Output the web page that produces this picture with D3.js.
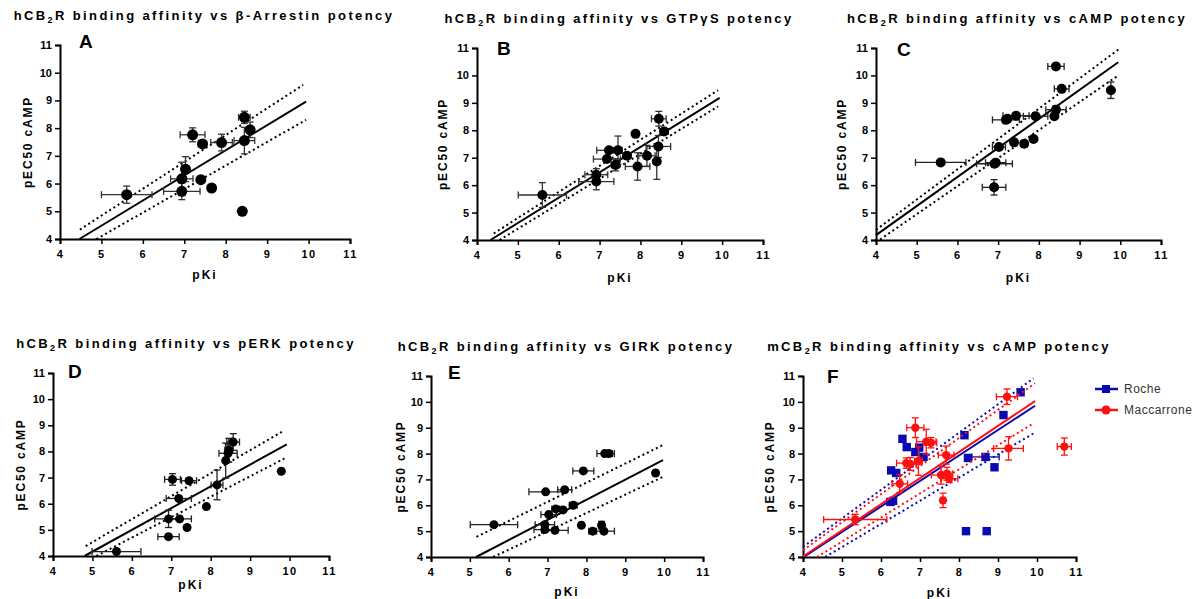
<!DOCTYPE html>
<meta charset="utf-8">
<script src="https://d3js.org/d3.v7.min.js"></script>
<style>
  body { margin: 0; background: #fff; }
  svg { font-family: Arial, "Liberation Sans", sans-serif; }
  .tick text { font-weight: bold; font-size: 11px; }
</style>
<svg id="chart" width="1198" height="599"></svg>
<script>
// points: [pKi, pEC50, pKi error, pEC50 error]
var pointsA = [[5.61,5.60,0.61,0.31],[6.94,5.72,0.44,0.30],[6.94,6.17,0.27,0.60],[7.03,6.52,0.08,0.45],
  [7.40,6.14,0,0],[7.66,5.84,0.07,0.07],[7.20,7.76,0.30,0.25],[7.44,7.43,0.10,0.05],[7.90,7.48,0.26,0.30],
  [8.45,7.55,0.25,0.48],[8.45,8.39,0.14,0.22],[8.59,7.94,0.08,0.28],[8.40,5.00,0.05,0.05]];
var pointsB = [[5.60,5.64,0.59,0.45],[6.92,6.13,0.43,0.30],[6.92,6.38,0.28,0.22],[7.18,6.95,0.33,0.10],
  [7.23,7.27,0.30,0.10],[7.45,7.27,0.10,0.52],[7.39,6.74,0.10,0.22],[7.67,7.07,0.10,0.05],[7.88,7.87,0,0],
  [7.93,6.68,0.30,0.50],[8.16,7.07,0.20,0.38],[8.40,6.86,0.05,0.65],[8.44,7.41,0.30,0.40],
  [8.45,8.42,0.18,0.27],[8.58,7.96,0.10,0.10]];
var pointsC = [[5.59,6.83,0.62,0.05],[6.90,5.92,0.29,0.28],[6.91,6.78,0.44,0.10],[6.94,6.82,0.25,0.05],
  [7.02,7.39,0.16,0.05],[7.19,8.38,0.33,0.05],[7.23,8.42,0.05,0.05],[7.44,8.53,0.32,0.05],[7.39,7.56,0.05,0.05],
  [7.64,7.51,0.08,0.05],[7.87,7.68,0.05,0.10],[7.92,8.51,0.30,0.05],[8.38,8.51,0.05,0.08],[8.42,8.75,0.25,0.15],
  [8.42,10.33,0.20,0.05],[8.56,9.51,0.18,0.05],[9.77,9.46,0.05,0.30]];
var pointsD = [[5.61,4.17,0.62,0.05],[6.93,4.74,0.27,0.05],[6.93,5.42,0.35,0.33],[7.21,5.42,0.30,0.05],
  [7.40,5.09,0,0],[7.19,6.20,0.32,0.05],[7.03,6.93,0.20,0.22],[7.45,6.88,0.19,0.05],[7.89,5.89,0,0],
  [8.16,6.72,0.15,0.57],[8.38,7.65,0.05,0.67],[8.44,7.93,0.23,0.35],[8.46,8.05,0.10,0.45],
  [8.57,8.36,0.16,0.32],[9.79,7.24,0,0]];
var pointsE = [[5.62,5.25,0.61,0],[6.93,5.06,0.28,0.05],[6.93,5.25,0.25,0.05],[6.95,6.52,0.43,0],
  [7.03,5.64,0.20,0.08],[7.19,5.03,0.34,0],[7.21,5.86,0.10,0],[7.40,5.82,0,0],[7.44,6.60,0.18,0.05],
  [7.66,6.00,0.10,0],[7.92,7.33,0.27,0],[7.87,5.23,0.05,0.05],[8.16,5.00,0.10,0],[8.39,5.23,0.05,0.15],
  [8.45,5.00,0.27,0],[8.47,8.00,0.20,0],[8.58,8.00,0.14,0.05],[9.78,7.25,0.05,0.10]];
var pointsRoche = [[9.58,10.37,0,0],[9.14,9.49,0,0.08],[8.14,8.71,0,0.08],[8.23,7.83,0,0],[8.68,7.87,0.35,0],
  [8.91,7.47,0,0],[8.18,5.00,0,0],[8.71,5.00,0,0],[6.55,8.57,0,0],[6.66,8.25,0,0],[6.88,8.06,0,0],
  [6.98,8.23,0,0],[7.09,7.87,0,0],[6.26,7.35,0,0],[6.39,7.25,0,0.12],[6.24,6.13,0,0],[6.31,6.17,0,0]];
var pointsMacc = [[5.34,5.45,0.81,0.20],[6.48,6.83,0.20,0.35],[6.65,7.63,0.25,0.20],[6.75,7.60,0.15,0.25],
  [6.88,9.00,0.22,0.38],[6.96,7.71,0.10,0.55],[7.16,8.46,0.25,0.48],[7.28,8.42,0.15,0.20],[7.54,7.17,0.25,0.35],
  [7.67,7.94,0.20,0.35],[7.69,7.22,0.15,0.25],[7.75,7.03,0.22,0.15],[7.59,6.19,0.05,0.28],
  [9.27,8.20,0.38,0.45],[9.23,10.20,0.27,0.30],[10.70,8.27,0.18,0.33]];

// regression line and dotted bands: [x1, y1, x2, y2]
var fitA = [4.47,4.00,9.94,8.96], upA = [4.48,4.34,9.87,9.56], loA = [4.88,4.00,9.94,8.30];
var fitB = [4.33,4.00,9.94,9.18], upB = [4.41,4.24,9.90,9.46], loB = [4.55,4.00,9.90,8.87];
var fitC = [4.00,4.18,9.95,10.48], upC = [4.00,4.37,9.95,10.94], loC = [4.10,4.02,9.95,10.00];
var fitD = [4.80,4.00,9.93,8.27], upD = [4.83,4.38,9.87,8.81], loD = [5.10,4.00,9.87,7.73];
var fitE = [5.16,4.00,9.97,7.75], upE = [5.17,4.78,9.97,8.33], loE = [5.60,4.00,9.97,7.10];
var fitRoche = [4.02,4.00,9.95,9.85], upRoche = [4.00,4.39,9.91,10.91], loRoche = [4.57,4.00,9.91,8.78];
var fitMacc = [4.00,4.02,9.95,10.03], upMacc = [4.00,4.26,9.95,10.72], loMacc = [4.36,4.00,9.91,9.17];

var ticks = [4, 5, 6, 7, 8, 9, 10, 11];
var legendNames = ["Roche", "Maccarrone"];

var black = "#000", blue = "#0a0ab4", red = "#ff1010";

var panels = [
  {letter: "A", title: "R binding affinity vs β-Arrestin potency", l: 60, r: 350, t: 45, b: 239,
   tx: 204, ty: 20, lx: 79, ly: 48, ylx: 28, xly: 279, rad: 5.5,
   series: [{pts: pointsA, fit: fitA, up: upA, lo: loA, color: black, err: "#333", shape: "circle"}]},
  {letter: "B", title: "R binding affinity vs GTPγS potency", l: 477, r: 763, t: 48, b: 240,
   tx: 619, ty: 23, lx: 497, ly: 55, ylx: 443, xly: 282, rad: 5,
   series: [{pts: pointsB, fit: fitB, up: upB, lo: loB, color: black, err: "#333", shape: "circle"}]},
  {letter: "C", title: "R binding affinity vs cAMP potency", l: 876, r: 1161, t: 48, b: 240,
   tx: 1017, ty: 23, lx: 897, ly: 56, ylx: 842, xly: 282, rad: 5,
   series: [{pts: pointsC, fit: fitC, up: upC, lo: loC, color: black, err: "#222", shape: "circle"}]},
  {letter: "D", title: "R binding affinity vs pERK potency", l: 53, r: 329, t: 373, b: 556,
   tx: 186, ty: 348, lx: 68, ly: 378, ylx: 21, xly: 589, rad: 4.5,
   series: [{pts: pointsD, fit: fitD, up: upD, lo: loD, color: black, err: "#222", shape: "circle"}]},
  {letter: "E", title: "R binding affinity vs GIRK potency", l: 431, r: 703, t: 376, b: 557,
   tx: 566, ty: 351, lx: 448, ly: 379, ylx: 401, xly: 596, rad: 4.5,
   series: [{pts: pointsE, fit: fitE, up: upE, lo: loE, color: black, err: "#222", shape: "circle"}]},
  {letter: "F", title: "R binding affinity vs cAMP potency", l: 803, r: 1076, t: 376, b: 557,
   tx: 939, ty: 351, lx: 827, ly: 383, ylx: 770, xly: 597, rad: 4.2, prefix: "mCB",
   series: [{pts: pointsRoche, fit: fitRoche, up: upRoche, lo: loRoche, color: blue, err: blue, shape: "square"},
            {pts: pointsMacc, fit: fitMacc, up: upMacc, lo: loMacc, color: red, err: red, shape: "circle"}]}
];

var svg = d3.select("#chart");

panels.forEach(function(p) {
  var x = d3.scaleLinear().domain([4, 11]).range([p.l, p.r]);
  var y = d3.scaleLinear().domain([4, 11]).range([p.b, p.t]);
  var g = svg.append("g");

  // title with subscript 2
  var title = g.append("text")
    .attr("x", p.tx).attr("y", p.ty)
    .attr("text-anchor", "middle")
    .style("font-weight", "bold").style("font-size", "13px").style("letter-spacing", "2.4px");
  title.append("tspan").text(p.prefix || "hCB");
  title.append("tspan").attr("dy", 3).style("font-size", "9px").text("2");
  title.append("tspan").attr("dy", -3).text(p.title);

  // axes
  var xAxis = g.append("g").attr("transform", "translate(0," + p.b + ")")
    .call(d3.axisBottom(x).tickValues(ticks).tickFormat(d3.format("d")).tickSize(5).tickPadding(6));
  var yAxis = g.append("g").attr("transform", "translate(" + p.l + ",0)")
    .call(d3.axisLeft(y).tickValues(ticks).tickFormat(d3.format("d")).tickSize(5).tickPadding(3));
  [xAxis, yAxis].forEach(function(a) {
    a.select(".domain").attr("stroke", "#000").attr("stroke-width", 2);
    a.selectAll(".tick line").attr("stroke", "#000").attr("stroke-width", 1.5);
    a.selectAll(".tick text").attr("fill", "#000");
  });
  xAxis.selectAll(".tick text").style("letter-spacing", "1.5px");

  g.append("text").attr("x", p.lx).attr("y", p.ly)
    .style("font-weight", "bold").style("font-size", "19px").text(p.letter);

  g.append("text")
    .attr("transform", "translate(" + p.ylx + "," + ((p.t + p.b) / 2) + ") rotate(-90)")
    .attr("text-anchor", "middle").attr("dy", "0.35em")
    .style("font-weight", "bold").style("font-size", "12px").style("letter-spacing", "1.8px")
    .text("pEC50 cAMP");

  g.append("text").attr("x", (p.l + p.r) / 2).attr("y", p.xly)
    .attr("text-anchor", "middle")
    .style("font-weight", "bold").style("font-size", "12px").style("letter-spacing", "2px")
    .text("pKi");

  p.series.forEach(function(s) {
    // fit line and bands
    [[s.up, "2,3"], [s.lo, "2,3"], [s.fit, null]].forEach(function(ln) {
      var d = ln[0];
      g.append("line")
        .attr("x1", x(d[0])).attr("y1", y(d[1])).attr("x2", x(d[2])).attr("y2", y(d[3]))
        .attr("stroke", s.color).attr("stroke-width", 2)
        .attr("stroke-dasharray", ln[1]);
    });

    // error bars
    var cap = 3.5;
    s.pts.forEach(function(d) {
      var cx = x(d[0]), cy = y(d[1]);
      if (d[2] > 0) {
        var x1 = x(d[0] - d[2]), x2 = x(d[0] + d[2]);
        g.append("line").attr("x1", x1).attr("x2", x2).attr("y1", cy).attr("y2", cy)
          .attr("stroke", s.err).attr("stroke-width", 1.3);
        [x1, x2].forEach(function(xx) {
          g.append("line").attr("x1", xx).attr("x2", xx).attr("y1", cy - cap).attr("y2", cy + cap)
            .attr("stroke", s.err).attr("stroke-width", 1.3);
        });
      }
      if (d[3] > 0) {
        var y1 = y(d[1] - d[3]), y2 = y(d[1] + d[3]);
        g.append("line").attr("x1", cx).attr("x2", cx).attr("y1", y1).attr("y2", y2)
          .attr("stroke", s.err).attr("stroke-width", 1.3);
        [y1, y2].forEach(function(yy) {
          g.append("line").attr("x1", cx - cap).attr("x2", cx + cap).attr("y1", yy).attr("y2", yy)
            .attr("stroke", s.err).attr("stroke-width", 1.3);
        });
      }
    });

    // markers
    if (s.shape === "square") {
      g.selectAll(null).data(s.pts).enter().append("rect")
        .attr("x", function(d) { return x(d[0]) - p.rad; })
        .attr("y", function(d) { return y(d[1]) - p.rad; })
        .attr("width", p.rad * 2).attr("height", p.rad * 2)
        .attr("fill", s.color);
    } else {
      g.selectAll(null).data(s.pts).enter().append("circle")
        .attr("cx", function(d) { return x(d[0]); })
        .attr("cy", function(d) { return y(d[1]); })
        .attr("r", p.rad).attr("fill", s.color);
    }
  });
});

// legend for panel F
var legend = svg.append("g");
[[blue, "square"], [red, "circle"]].forEach(function(item, i) {
  var ly = 389 + i * 21;
  legend.append("line").attr("x1", 1095).attr("x2", 1118).attr("y1", ly).attr("y2", ly)
    .attr("stroke", item[0]).attr("stroke-width", 2.5);
  if (item[1] === "square") {
    legend.append("rect").attr("x", 1102).attr("y", ly - 4).attr("width", 8).attr("height", 8).attr("fill", item[0]);
  } else {
    legend.append("circle").attr("cx", 1106).attr("cy", ly).attr("r", 4.5).attr("fill", item[0]);
  }
  legend.append("text").attr("x", 1124).attr("y", ly).attr("dy", "0.35em")
    .style("font-size", "12px").style("letter-spacing", "0.5px").attr("fill", "#333")
    .text(legendNames[i]);
});
</script>
